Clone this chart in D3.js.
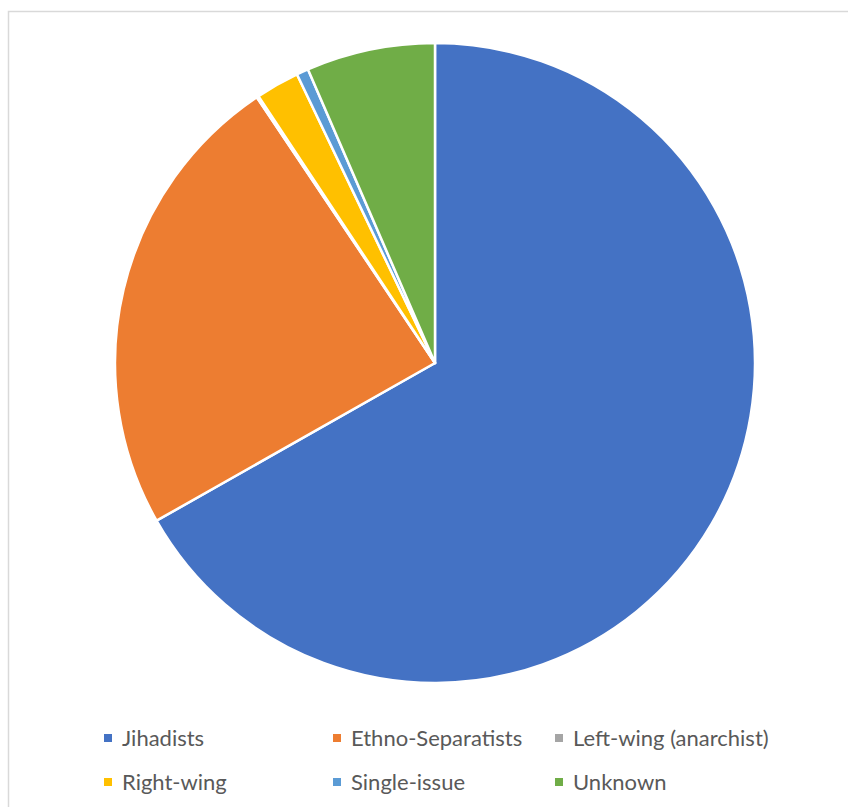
<!DOCTYPE html>
<html>
<head>
<meta charset="utf-8">
<script src="https://cdn.jsdelivr.net/npm/d3@7"></script>
<style>
  html, body { margin: 0; padding: 0; background: #fff; }
  svg { display: block; }
</style>
</head>
<body>
<svg id="chart" width="848" height="807"></svg>
<script>
// Share of attacks by affiliation (percent)
const categories = ["Jihadists", "Ethno-Separatists", "Left-wing (anarchist)", "Right-wing", "Single-issue", "Unknown"];
const values = [66.8, 23.8, 0.1, 2.2, 0.6, 6.5];
const colors = ["#4472C4", "#ED7D31", "#A5A5A5", "#FFC000", "#5B9BD5", "#70AD47"];

const svg = d3.select("#chart");

// chart frame
svg.append("rect")
  .attr("x", 8.5).attr("y", 11.5)
  .attr("width", 900).attr("height", 900)
  .attr("fill", "none")
  .attr("stroke", "#d9d9d9")
  .attr("stroke-width", 1.5);

const cx = 435, cy = 363, r = 320;

const data = categories.map((c, i) => ({ name: c, value: values[i], color: colors[i] }));

const pie = d3.pie().value(d => d.value).sort(null);
const arc = d3.arc().innerRadius(0).outerRadius(r);

svg.append("g")
  .attr("transform", `translate(${cx},${cy})`)
  .selectAll("path")
  .data(pie(data))
  .join("path")
  .attr("d", arc)
  .attr("fill", d => d.data.color)
  .attr("stroke", "#fff")
  .attr("stroke-width", 2.5)
  .attr("stroke-linejoin", "round");

// legend: three columns, two rows
const colX = [104, 333, 555];
const rowY = [738, 782];
const legend = svg.append("g");
data.forEach((d, i) => {
  const x = colX[i % 3], y = rowY[Math.floor(i / 3)];
  const g = legend.append("g").attr("transform", `translate(${x},${y})`);
  g.append("rect")
    .attr("x", 0).attr("y", -4)
    .attr("width", 8).attr("height", 8)
    .attr("fill", d.color);
  g.append("text")
    .attr("x", 18).attr("y", 0)
    .attr("dy", "0.35em")
    .attr("font-family", "Lato, 'Open Sans', sans-serif")
    .attr("font-size", 22)
    .attr("fill", "#595959")
    .text(d.name);
});
</script>
</body>
</html>
